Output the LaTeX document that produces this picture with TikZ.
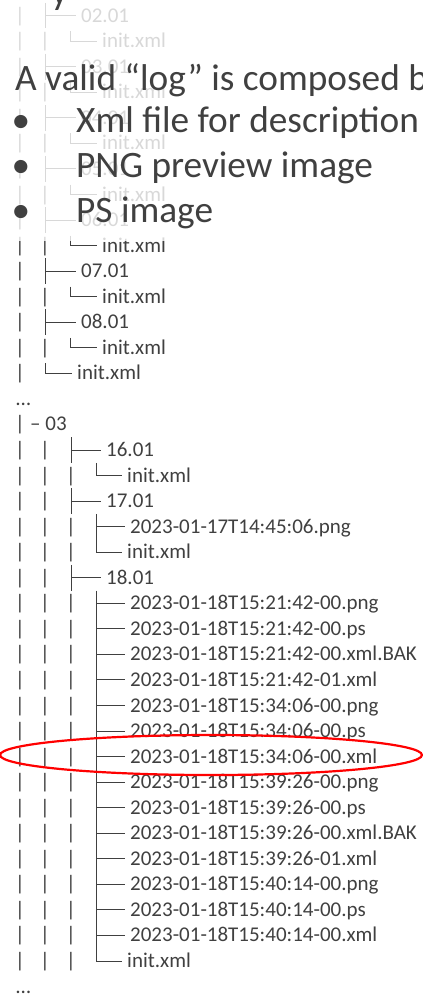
\documentclass[tikz,border=0pt]{standalone}
\usepackage{fontspec}
\setmainfont{Carlito}
\usepackage{ifthen}
\usetikzlibrary{calc}
\definecolor{txtgray}{HTML}{404040}
\definecolor{hired}{HTML}{FF0000}

\tikzset{
  tree/.style={font=\fontsize{21}{24}\selectfont, text=txtgray, inner xsep=5pt, inner ysep=0pt,
               text height=13pt, text depth=0pt, anchor=west},
  pipe/.style={font=\fontsize{21}{24}\selectfont, text=txtgray, inner sep=0pt, anchor=base},
  branch/.style={draw=txtgray, line width=1pt},
  big/.style={font=\fontsize{37.3}{44}\selectfont, text=txtgray, inner sep=0pt, anchor=base west},
  hilite/.style={draw=hired, line width=2.2pt}
}

\begin{document}
\begin{tikzpicture}[x=1pt, y=-1pt]
    \useasboundingbox (0,0) rectangle (423,994);
    \def\rh{25.55}% row height
    \def\yc{450}% centre of row 0 (16.01)

    % upper part, 02.01 ... 08.01
    \foreach \d [count=\k from 0] in {02,03,04,05,06,07,08} {
        \pgfmathsetmacro\ra{\yc+\rh*(2*\k-17)}
        \pgfmathsetmacro\rb{\ra+\rh}
        \node[pipe] (pa-\k) at (20,\ra+6.5) {|};
        \coordinate (ta-\k) at (45,\ra);
        \node[tree] (da-\k) at (76,\ra) {\d.01};
        \draw[branch] ([yshift=12.8pt]ta-\k) -- ([yshift=-12.8pt]ta-\k) (ta-\k) -- (da-\k.west);
        \node[pipe] (pb-\k) at (20,\rb+6.5) {|};
        \node[pipe] (pc-\k) at (45,\rb+6.5) {|};
        \coordinate (tb-\k) at (70,\rb);
        \node[tree] (ia-\k) at (97,\rb) {init.xml};
        \draw[branch] ([yshift=10pt]tb-\k) -- (tb-\k) -- (ia-\k.west);
    }
    \node[pipe] (pl) at (20,\yc-3*\rh+6.5) {|};
    \coordinate (tl) at (45,\yc-3*\rh);
    \node[tree] (il) at (72,\yc-3*\rh) {init.xml};
    \draw[branch] ([yshift=10pt]tl) -- (tl) -- (il.west);

    \node[pipe, anchor=base west] (dots1) at (16,\yc-2*\rh+6.5) {…};
    \node[pipe] (p03) at (20,\yc-\rh+6.5) {|};
    \node[pipe, anchor=base west] (y03) at (30,\yc-\rh+6.5) {– 03};

    % lower part
    \foreach \r in {0,...,20} {
        \node[pipe] (p0-\r) at (20,\yc+\r*\rh+6.5) {|};
        \node[pipe] (p1-\r) at (45,\yc+\r*\rh+6.5) {|};
        \ifthenelse{\r=0 \OR \r=2 \OR \r=5}{}{\node[pipe] (p2-\r) at (71,\yc+\r*\rh+6.5) {|};}
    }
    \foreach \r/\d in {0/16.01, 2/17.01, 5/18.01} {
        \coordinate (td-\r) at (71,\yc+\r*\rh);
        \node[tree] (d-\r) at (101,\yc+\r*\rh) {\d};
        \draw[branch] ([yshift=12.8pt]td-\r) -- ([yshift=-12.8pt]td-\r) (td-\r) -- (d-\r.west);
    }
    \foreach \r/\f in {3/2023-01-17T14:45:06.png,
                       6/2023-01-18T15:21:42-00.png, 7/2023-01-18T15:21:42-00.ps,
                       8/2023-01-18T15:21:42-00.xml.BAK, 9/2023-01-18T15:21:42-01.xml,
                       10/2023-01-18T15:34:06-00.png, 11/2023-01-18T15:34:06-00.ps,
                       12/2023-01-18T15:34:06-00.xml, 13/2023-01-18T15:39:26-00.png,
                       14/2023-01-18T15:39:26-00.ps, 15/2023-01-18T15:39:26-00.xml.BAK,
                       16/2023-01-18T15:39:26-01.xml, 17/2023-01-18T15:40:14-00.png,
                       18/2023-01-18T15:40:14-00.ps, 19/2023-01-18T15:40:14-00.xml} {
        \coordinate (tf-\r) at (96,\yc+\r*\rh);
        \node[tree] (f-\r) at (125,\yc+\r*\rh) {\f};
        \draw[branch] ([yshift=12.8pt]tf-\r) -- ([yshift=-12.8pt]tf-\r) (tf-\r) -- (f-\r.west);
    }
    \foreach \r in {1,4,20} {
        \coordinate (ti-\r) at (96,\yc+\r*\rh);
        \node[tree] (i-\r) at (122,\yc+\r*\rh) {init.xml};
        \draw[branch] ([yshift=12.8pt]ti-\r) -- (ti-\r) -- (i-\r.west);
    }
    \node[pipe, anchor=base west] (dots2) at (16,\yc+21*\rh+6.5) {…};

    % text box over the tree
    \fill[white, opacity=0.8] (0,0) rectangle (423,241);
    \node[big] (frag) at (51,4) {y};
    \node[big] (title) at (15,90) {A valid “log” is composed b};
    \foreach \t [count=\i] in {Xml file for description, PNG preview image, PS image} {
        \node[big, anchor=base] (bu-\i) at (21,87+45*\i) {•};
        \node[big] (it-\i) at (76,87+45*\i) {\t};
    }

    \draw[hilite] (211,755) ellipse [x radius=211pt, y radius=20pt];
\end{tikzpicture}
\end{document}
